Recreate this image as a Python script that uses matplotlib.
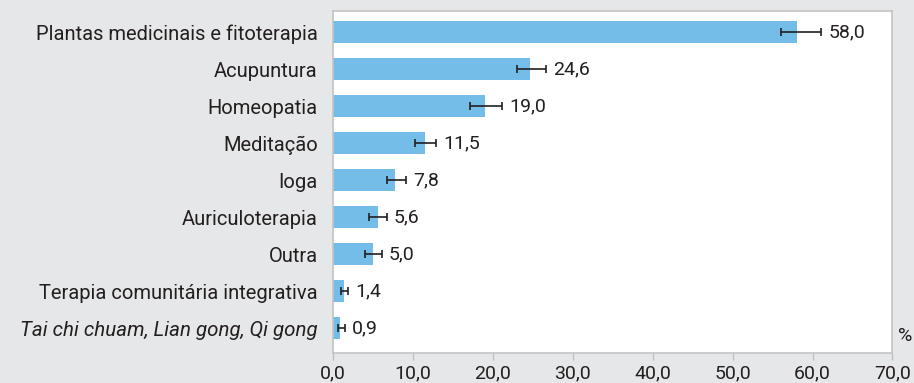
import matplotlib.pyplot as plt

# Práticas integrativas e complementares (%), com intervalo de confiança de 95%
categorias = [
    "Plantas medicinais e fitoterapia",
    "Acupuntura",
    "Homeopatia",
    "Meditação",
    "Ioga",
    "Auriculoterapia",
    "Outra",
    "Terapia comunitária integrativa",
    "Tai chi chuam, Lian gong, Qi gong",
]
valores = [58.0, 24.6, 19.0, 11.5, 7.8, 5.6, 5.0, 1.4, 0.9]
ic_inf = [56.1, 23.0, 17.2, 10.3, 6.7, 4.55, 4.0, 1.0, 0.6]
ic_sup = [61.1, 26.7, 21.2, 12.9, 9.2, 6.7, 6.1, 1.9, 1.5]
xticks = [0, 10, 20, 30, 40, 50, 60, 70]

cor_texto = "#231f20"

fig = plt.figure(figsize=(9.14, 3.83), dpi=100, facecolor="#e6e7e8")
ax = fig.add_axes([0.3643, 0.0783, 0.6121, 0.8937])
ax.set_facecolor("white")

y = list(range(len(categorias)))
xerr = [[v - lo for v, lo in zip(valores, ic_inf)],
        [hi - v for v, hi in zip(valores, ic_sup)]]

ax.barh(y, valores, height=0.6, color="#74bde8", zorder=2)
ax.errorbar(valores, y, xerr=xerr, fmt="none", ecolor=cor_texto,
            elinewidth=1.2, capsize=2.6, capthick=1.2, zorder=3)

for yi, v, hi in zip(y, valores, ic_sup):
    txt = f"{v:.1f}".replace(".", ",")
    ax.annotate(txt, (hi, yi), xytext=(5, 0), textcoords="offset points",
                va="center", ha="left", fontsize=14, family="Roboto",
                color=cor_texto)

ax.set_ylim(len(categorias) - 1 + 0.676, -0.576)
ax.set_xlim(0, 70)
ax.set_yticks(y)
ax.set_yticklabels(categorias, fontsize=14.5, family="Roboto", color=cor_texto)
ultimo = ax.get_yticklabels()[-1]
ultimo.set_fontstyle("italic")
ultimo.set_fontsize(14.8)

ax.set_xticks(xticks)
ax.set_xticklabels([f"{t:.1f}".replace(".", ",") for t in xticks],
                   fontsize=14, family="Roboto", color=cor_texto)
ax.tick_params(axis="y", length=0, pad=11)
ax.tick_params(axis="x", length=5, width=1, color="#bfbfbf", pad=3)

for s in ax.spines.values():
    s.set_color("#c4c4c4")
    s.set_linewidth(1.2)

fig.text(0.990, 0.1227, "%", ha="center", va="center", fontsize=14,
         family="Roboto", color=cor_texto)

fig.savefig("out.png", dpi=100, facecolor=fig.get_facecolor())
